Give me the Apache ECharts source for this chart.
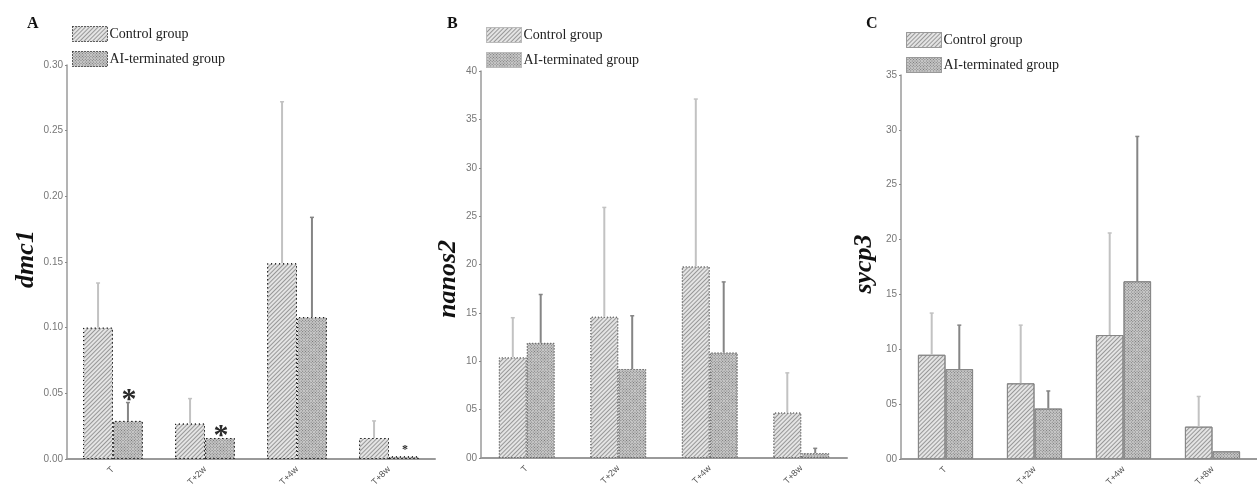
<!DOCTYPE html>
<html><head><meta charset="utf-8">
<script src="https://cdn.jsdelivr.net/npm/echarts@6/dist/echarts.min.js"></script>
<style>html,body{margin:0;padding:0;background:#fff}#c{width:1257px;height:504px}</style>
</head><body><div id="c"></div>
<script>
// ---- data ----
const categories = ['T', 'T+2w', 'T+4w', 'T+8w'];
const seriesNames = ['Control group', 'AI-terminated group'];

const dmc1Control = [0.100, 0.027, 0.149, 0.016];
const dmc1ControlUpper = [0.134, 0.046, 0.272, 0.029];
const dmc1Treated = [0.029, 0.016, 0.108, 0.002];
const dmc1TreatedUpper = [0.043, 0.016, 0.184, 0.002];
const dmc1Marks = ['*', '*', '', '*'];

const nanos2Control = [10.4, 14.6, 19.8, 4.7];
const nanos2ControlUpper = [14.5, 25.9, 37.1, 8.8];
const nanos2Treated = [11.9, 9.2, 10.9, 0.5];
const nanos2TreatedUpper = [16.9, 14.7, 18.2, 1.0];

const sycp3Control = [9.5, 6.9, 11.3, 2.95];
const sycp3ControlUpper = [13.3, 12.2, 20.6, 5.7];
const sycp3Treated = [8.2, 4.6, 16.2, 0.7];
const sycp3TreatedUpper = [12.2, 6.2, 29.4, 0.7];

const dmc1Ticks = ['0.00', '0.05', '0.10', '0.15', '0.20', '0.25', '0.30'];
const nanos2Ticks = ['00', '05', '10', '15', '20', '25', '30', '35', '40'];
const sycp3Ticks = ['00', '05', '10', '15', '20', '25', '30', '35'];

const panels = [
  { letter: 'A', title: 'dmc1', ctl: dmc1Control, ctlUp: dmc1ControlUpper, trt: dmc1Treated, trtUp: dmc1TreatedUpper,
    ticks: dmc1Ticks, interval: 0.05, grid: { left: 67, top: 65, width: 368, height: 394 }, gap: 0.35, marks: dmc1Marks },
  { letter: 'B', title: 'nanos2', ctl: nanos2Control, ctlUp: nanos2ControlUpper, trt: nanos2Treated, trtUp: nanos2TreatedUpper,
    ticks: nanos2Ticks, interval: 5, grid: { left: 481, top: 71, width: 366, height: 387 }, gap: 0.39, marks: null },
  { letter: 'C', title: 'sycp3', ctl: sycp3Control, ctlUp: sycp3ControlUpper, trt: sycp3Treated, trtUp: sycp3TreatedUpper,
    ticks: sycp3Ticks, interval: 5, grid: { left: 901, top: 75, width: 367, height: 384 }, gap: 0.38, marks: null }
];

const ctlDecal = { symbol: 'rect', symbolSize: 1, dashArrayX: [1, 0], dashArrayY: [1, 2], rotation: -Math.PI / 4, color: 'rgba(90,90,90,0.55)' };
const trtDecal = { symbol: 'rect', symbolSize: 1, dashArrayX: [1, 1], dashArrayY: [1, 1], rotation: Math.PI / 4, color: 'rgba(60,60,60,0.6)' };

const grids = [], xAxes = [], yAxes = [], series = [], legends = [], graphics = [];

function errSeries(pi, means, uppers, side, color, gap) {
  return {
    type: 'custom', xAxisIndex: pi, yAxisIndex: pi, z: 3, silent: true,
    data: means.map((m, i) => [i, m, uppers[i]]),
    encode: { x: 0, y: [1, 2] },
    renderItem: function (params, api) {
      const cat = api.value(0);
      const p0 = api.coord([cat, api.value(1)]);
      const p1 = api.coord([cat, api.value(2)]);
      const bw = api.size([1, 0])[0];
      const barW = bw * (1 - gap) / 2;
      const x = p0[0] + (side === 0 ? -barW / 2 : barW / 2);
      if (Math.abs(p0[1] - p1[1]) < 0.5) return null;
      return {
        type: 'group', children: [
          { type: 'line', shape: { x1: x, y1: p0[1], x2: x, y2: p1[1] }, style: { stroke: color, lineWidth: 2 } },
          { type: 'line', shape: { x1: x - 2, y1: p1[1], x2: x + 2, y2: p1[1] }, style: { stroke: color, lineWidth: 1.5 } }
        ]
      };
    }
  };
}

function markSeries(pi, uppers, marks, gap) {
  return {
    type: 'custom', xAxisIndex: pi, yAxisIndex: pi, z: 4, silent: true,
    data: uppers.map((u, i) => [i, u, marks[i]]),
    encode: { x: 0, y: 1 },
    renderItem: function (params, api) {
      const i = params.dataIndex;
      const txt = marks[i];
      if (!txt) return null;
      const cat = api.value(0);
      const p = api.coord([cat, api.value(1)]);
      const bw = api.size([1, 0])[0];
      const barW = bw * (1 - gap) / 2;
      const small = i === 3;
      const x = p[0] + barW / 2 + 1;
      return {
        type: 'text',
        style: {
          text: txt, x: x, y: p[1] - (small ? 6 : 2),
          textAlign: 'center', textVerticalAlign: 'middle',
          font: (small ? 'bold 12px' : 'bold 30px') + ' "Liberation Serif"', fill: '#2a2a2a'
        }
      };
    }
  };
}

const borderStyles = [
  { borderColor: '#111', borderType: [1, 3] },
  { borderColor: '#666', borderType: [1, 2] },
  { borderColor: '#888', borderType: 'solid' }
];

panels.forEach((p, pi) => {
  grids.push(Object.assign({ containLabel: false }, p.grid));
  xAxes.push({
    type: 'category', gridIndex: pi, data: categories,
    axisLine: { lineStyle: { color: '#9a9a9a', width: 2 } },
    axisTick: { show: false },
    axisLabel: { rotate: 45, fontSize: 9, color: '#555', margin: 9, fontFamily: 'Liberation Sans' }
  });
  yAxes.push({
    type: 'value', gridIndex: pi, min: 0, max: p.interval * (p.ticks.length - 1), interval: p.interval,
    splitLine: { show: false },
    axisLine: { show: true, lineStyle: { color: '#9a9a9a', width: 1.5 } },
    axisTick: { show: true, length: 2, lineStyle: { color: '#888' } },
    axisLabel: {
      fontSize: 10, color: '#777', margin: 4, fontFamily: 'Liberation Sans',
      formatter: v => p.ticks[Math.round(v / p.interval)]
    }
  });
  const bs = borderStyles[pi];
  series.push({
    name: seriesNames[0], type: 'bar', xAxisIndex: pi, yAxisIndex: pi, data: p.ctl,
    barGap: '0%', barCategoryGap: (p.gap * 100) + '%',
    itemStyle: { color: '#e4e4e4', decal: ctlDecal, borderColor: bs.borderColor, borderWidth: 1, borderType: bs.borderType }
  });
  series.push({
    name: seriesNames[1], type: 'bar', xAxisIndex: pi, yAxisIndex: pi, data: p.trt,
    barGap: '0%', barCategoryGap: (p.gap * 100) + '%',
    itemStyle: { color: '#c9c9c9', decal: trtDecal, borderColor: bs.borderColor, borderWidth: 1, borderType: bs.borderType }
  });
  series.push(errSeries(pi, p.ctl, p.ctlUp, 0, '#c2c2c2', p.gap));
  series.push(errSeries(pi, p.trt, p.trtUp, 1, '#858585', p.gap));
  if (p.marks) series.push(markSeries(pi, p.trtUp, p.marks, p.gap));

  legends.push({
    data: seriesNames, orient: 'vertical', left: p.grid.left, top: [21, 22, 27][pi],
    itemWidth: 35, itemHeight: 15, itemGap: 9, selectedMode: false, icon: 'rect',
    itemStyle: { borderColor: ['#333', '#bbb', '#999'][pi], borderWidth: 1, borderType: [[1, 2], 'solid', 'solid'][pi] },
    textStyle: { fontFamily: 'Liberation Serif', fontSize: 14, color: '#222', padding: [0, 0, 0, -3] }
  });
  graphics.push({
    type: 'text', left: [27, 447, 866][pi], top: 16,
    style: { text: p.letter, font: 'bold 16px "Liberation Serif"', fill: '#111' }
  });
  graphics.push({
    type: 'text', x: [26, 448, 864][pi], y: [259, 279, 264][pi], rotation: Math.PI / 2,
    style: { text: p.title, font: 'italic bold 26px "Liberation Serif"', fill: '#111', textAlign: 'center', textVerticalAlign: 'middle' }
  });
});

const chart = echarts.init(document.getElementById('c'), null, { renderer: 'canvas' });
chart.setOption({
  animation: false,
  backgroundColor: '#fff',
  grid: grids, xAxis: xAxes, yAxis: yAxes, series: series, legend: legends, graphic: graphics
});
</script></body></html>
